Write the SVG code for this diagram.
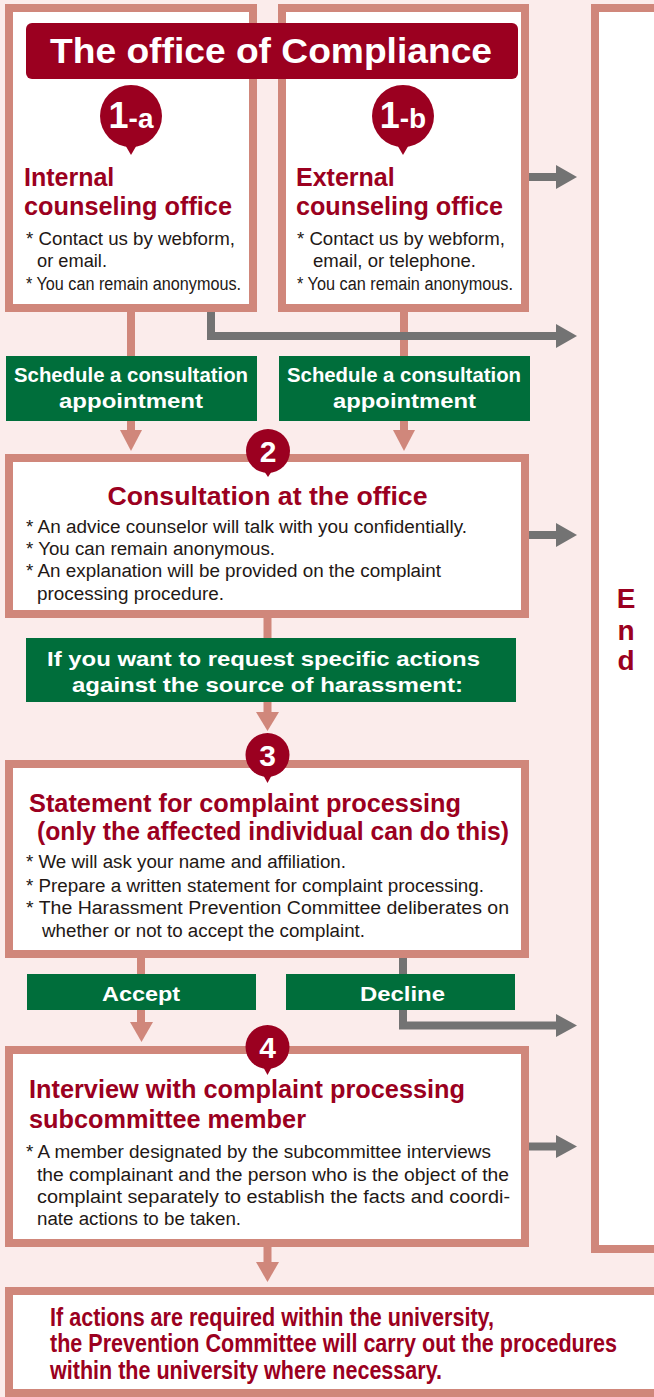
<svg xmlns="http://www.w3.org/2000/svg" width="654" height="1397" viewBox="0 0 654 1397">
  <style>
    text { font-family: "Liberation Sans", Arial, Helvetica, sans-serif; }
    .box { fill: #ffffff; stroke: #D0877B; stroke-width: 8; }
    .label { fill: #006E3B; }
    .banner { fill: #9B0020; }
    .badge { fill: #9B0020; }
    .num { fill: #ffffff; font-weight: bold; text-anchor: middle; }
    .head { fill: #9B0020; font-weight: bold; font-size: 25px; }
    .body { fill: #231815; font-size: 18px; }
    .lbl { fill: #ffffff; font-weight: bold; font-size: 21px; }
    .end { fill: #9B0020; font-weight: bold; font-size: 28px; text-anchor: middle; }
    .pink { stroke: #D0877B; stroke-width: 8; fill: none; }
    .pinkhead { fill: #D0877B; }
    .gray { stroke: #737373; stroke-width: 8; fill: none; }
    .grayhead { fill: #737373; }
  </style>

  <!-- page background -->
  <rect x="0" y="0" width="654" height="1397" fill="#FBECEB"/>

  <!-- connectors -->
  <g id="connectors">
    <!-- flow arrows (salmon) -->
    <line class="pink" x1="131" y1="312" x2="131" y2="432"/>
    <polygon class="pinkhead" points="120,430 142,430 131,451"/>
    <line class="pink" x1="404" y1="312" x2="404" y2="432"/>
    <polygon class="pinkhead" points="393,430 415,430 404,451"/>
    <line class="pink" x1="267.5" y1="618" x2="267.5" y2="714"/>
    <polygon class="pinkhead" points="256,712 279,712 267.5,731"/>
    <line class="pink" x1="141" y1="958" x2="141" y2="1024"/>
    <polygon class="pinkhead" points="130,1022 153,1022 141.5,1042"/>
    <line class="pink" x1="267.5" y1="1247" x2="267.5" y2="1264"/>
    <polygon class="pinkhead" points="256,1262 279,1262 267.5,1282"/>

    <!-- exits to End (gray) -->
    <line class="gray" x1="529" y1="177" x2="558" y2="177"/>
    <polygon class="grayhead" points="556,165 577,177 556,189"/>
    <path class="gray" d="M211,312 V336 H558"/>
    <polygon class="grayhead" points="556,324 577,336 556,348"/>
    <line class="gray" x1="529" y1="535" x2="558" y2="535"/>
    <polygon class="grayhead" points="556,523 577,535 556,547"/>
    <path class="gray" d="M403,958 V1025.5 H558"/>
    <polygon class="grayhead" points="556,1014 577,1025.5 556,1037"/>
    <line class="gray" x1="529" y1="1146.5" x2="558" y2="1146.5"/>
    <polygon class="grayhead" points="556,1135 577,1146.5 556,1158"/>
  </g>

  <!-- End column -->
  <g id="end">
    <rect class="box" x="595" y="8" width="100" height="1241"/>
    <text class="end" x="626" y="608">E</text>
    <text class="end" x="626" y="640">n</text>
    <text class="end" x="626" y="670">d</text>
  </g>

  <!-- 1-a internal counseling office -->
  <g id="internal">
    <rect class="box" x="9" y="8" width="244" height="300"/>
    <text class="head" x="24" y="186">Internal</text>
    <text class="head" x="24" y="215" textLength="208" lengthAdjust="spacingAndGlyphs">counseling office</text>
    <text class="body" x="26" y="245" textLength="209" lengthAdjust="spacingAndGlyphs">* Contact us by webform,</text>
    <text class="body" x="37" y="267" textLength="70" lengthAdjust="spacingAndGlyphs">or email.</text>
    <text class="body" x="26" y="290" textLength="215" lengthAdjust="spacingAndGlyphs">* You can remain anonymous.</text>
  </g>

  <!-- 1-b external counseling office -->
  <g id="external">
    <rect class="box" x="282" y="8" width="243" height="300"/>
    <text class="head" x="296" y="186">External</text>
    <text class="head" x="296" y="215" textLength="207" lengthAdjust="spacingAndGlyphs">counseling office</text>
    <text class="body" x="297" y="245" textLength="208" lengthAdjust="spacingAndGlyphs">* Contact us by webform,</text>
    <text class="body" x="313" y="267" textLength="163" lengthAdjust="spacingAndGlyphs">email, or telephone.</text>
    <text class="body" x="297" y="290" textLength="216" lengthAdjust="spacingAndGlyphs">* You can remain anonymous.</text>
  </g>

  <!-- title banner -->
  <g id="title">
    <rect class="banner" x="26" y="23" width="492" height="56" rx="6"/>
    <text x="50" y="63" fill="#ffffff" font-weight="bold" font-size="35" textLength="442" lengthAdjust="spacingAndGlyphs">The office of Compliance</text>
  </g>

  <!-- step badges 1-a / 1-b -->
  <g id="badge-1a">
    <circle class="badge" cx="131" cy="116" r="31"/>
    <polygon class="badge" points="124,143 138,143 131,155"/>
    <text class="num" x="131" y="128"><tspan font-size="36">1</tspan><tspan font-size="28">-a</tspan></text>
  </g>
  <g id="badge-1b">
    <circle class="badge" cx="403" cy="116" r="31"/>
    <polygon class="badge" points="396,143 410,143 403,155"/>
    <text class="num" x="403" y="128"><tspan font-size="36">1</tspan><tspan font-size="28">-b</tspan></text>
  </g>

  <!-- schedule labels -->
  <g id="schedule-a">
    <rect class="label" x="6" y="356" width="251" height="65"/>
    <text class="lbl" x="14" y="382" textLength="234" lengthAdjust="spacingAndGlyphs">Schedule a consultation</text>
    <text class="lbl" x="59" y="408" textLength="144" lengthAdjust="spacingAndGlyphs">appointment</text>
  </g>
  <g id="schedule-b">
    <rect class="label" x="279" y="356" width="251" height="65"/>
    <text class="lbl" x="287" y="382" textLength="234" lengthAdjust="spacingAndGlyphs">Schedule a consultation</text>
    <text class="lbl" x="333" y="408" textLength="143" lengthAdjust="spacingAndGlyphs">appointment</text>
  </g>

  <!-- 2 consultation -->
  <g id="consultation">
    <rect class="box" x="9" y="458" width="516" height="156"/>
    <text class="head" x="107.5" y="505" font-size="26" textLength="320" lengthAdjust="spacingAndGlyphs">Consultation at the office</text>
    <text class="body" x="26" y="533" textLength="441" lengthAdjust="spacingAndGlyphs">* An advice counselor will talk with you confidentially.</text>
    <text class="body" x="26" y="555" textLength="249" lengthAdjust="spacingAndGlyphs">* You can remain anonymous.</text>
    <text class="body" x="26" y="577" textLength="415" lengthAdjust="spacingAndGlyphs">* An explanation will be provided on the complaint</text>
    <text class="body" x="37" y="600" textLength="187" lengthAdjust="spacingAndGlyphs">processing procedure.</text>
  </g>
  <g id="badge-2">
    <circle class="badge" cx="268" cy="451" r="22"/>
    <polygon class="badge" points="262,468 274,468 268,477"/>
    <text class="num" x="268" y="462" font-size="30">2</text>
  </g>

  <!-- request label -->
  <g id="request">
    <rect class="label" x="26" y="638" width="490" height="64"/>
    <text class="lbl" x="47" y="666" textLength="433" lengthAdjust="spacingAndGlyphs">If you want to request specific actions</text>
    <text class="lbl" x="72" y="692" textLength="391" lengthAdjust="spacingAndGlyphs">against the source of harassment:</text>
  </g>

  <!-- 3 statement -->
  <g id="statement">
    <rect class="box" x="9" y="764" width="516" height="190"/>
    <text class="head" x="29" y="812" textLength="432" lengthAdjust="spacingAndGlyphs">Statement for complaint processing</text>
    <text class="head" x="37" y="840" textLength="472" lengthAdjust="spacingAndGlyphs">(only the affected individual can do this)</text>
    <text class="body" x="26" y="868" textLength="320" lengthAdjust="spacingAndGlyphs">* We will ask your name and affiliation.</text>
    <text class="body" x="26" y="892" textLength="458" lengthAdjust="spacingAndGlyphs">* Prepare a written statement for complaint processing.</text>
    <text class="body" x="26" y="914" textLength="483" lengthAdjust="spacingAndGlyphs">* The Harassment Prevention Committee deliberates on</text>
    <text class="body" x="42" y="937" textLength="323" lengthAdjust="spacingAndGlyphs">whether or not to accept the complaint.</text>
  </g>
  <g id="badge-3">
    <circle class="badge" cx="267.5" cy="755" r="22"/>
    <polygon class="badge" points="261.5,772 273.5,772 267.5,783"/>
    <text class="num" x="267.5" y="766" font-size="30">3</text>
  </g>

  <!-- decision labels -->
  <g id="accept">
    <rect class="label" x="27" y="974" width="229" height="36"/>
    <text class="lbl" x="102" y="1001" font-size="22" textLength="78" lengthAdjust="spacingAndGlyphs">Accept</text>
  </g>
  <g id="decline">
    <rect class="label" x="286" y="974" width="229" height="36"/>
    <text class="lbl" x="360" y="1001" font-size="22" textLength="85" lengthAdjust="spacingAndGlyphs">Decline</text>
  </g>

  <!-- 4 interview -->
  <g id="interview">
    <rect class="box" x="9" y="1050" width="516" height="193"/>
    <text class="head" x="29" y="1098" textLength="436" lengthAdjust="spacingAndGlyphs">Interview with complaint processing</text>
    <text class="head" x="29" y="1128" textLength="277" lengthAdjust="spacingAndGlyphs">subcommittee member</text>
    <text class="body" x="26" y="1158" textLength="465" lengthAdjust="spacingAndGlyphs">* A member designated by the subcommittee interviews</text>
    <text class="body" x="37" y="1181" textLength="472" lengthAdjust="spacingAndGlyphs">the complainant and the person who is the object of the</text>
    <text class="body" x="37" y="1203" textLength="473" lengthAdjust="spacingAndGlyphs">complaint separately to establish the facts and coordi-</text>
    <text class="body" x="37" y="1225" textLength="204" lengthAdjust="spacingAndGlyphs">nate actions to be taken.</text>
  </g>
  <g id="badge-4">
    <circle class="badge" cx="267.5" cy="1047" r="22"/>
    <polygon class="badge" points="261.5,1064 273.5,1064 267.5,1075"/>
    <text class="num" x="267.5" y="1058" font-size="30">4</text>
  </g>

  <!-- university procedures -->
  <g id="university">
    <rect class="box" x="9" y="1291" width="700" height="102"/>
    <text class="head" x="50" y="1326" font-size="20" textLength="444" lengthAdjust="spacingAndGlyphs">If actions are required within the university,</text>
    <text class="head" x="50" y="1352" font-size="20" textLength="567" lengthAdjust="spacingAndGlyphs">the Prevention Committee will carry out the procedures</text>
    <text class="head" x="50" y="1379" font-size="20" textLength="392" lengthAdjust="spacingAndGlyphs">within the university where necessary.</text>
  </g>
</svg>
